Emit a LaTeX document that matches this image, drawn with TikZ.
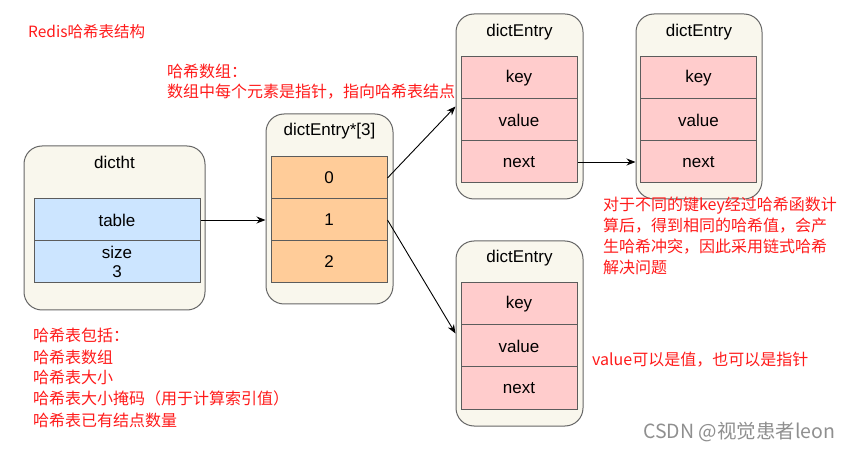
\documentclass[tikz,border=0pt]{standalone}
\usepackage{fontspec}
\setmainfont{Liberation Sans}
\newfontfamily\cjk{Noto Sans CJK SC}
\usetikzlibrary{arrows.meta}
\definecolor{boxfill}{HTML}{F9F7ED}
\definecolor{boxline}{HTML}{666666}
\definecolor{bluefill}{HTML}{CCE5FF}
\definecolor{orangefill}{HTML}{FFCC99}
\definecolor{pinkfill}{HTML}{FFCCCC}
\definecolor{cellline}{HTML}{5C5C5C}
\definecolor{notered}{HTML}{FF1A1A}
\definecolor{wmgray}{HTML}{8F8F8F}
\begin{document}
\begin{tikzpicture}[x=1pt,y=-1pt,
  container/.style={draw=boxline, fill=boxfill, rounded corners=18pt, line width=1pt, inner sep=0pt},
  cell/.style={draw=cellline, line width=1pt, minimum width=116pt, minimum height=42pt, inner sep=0pt, font=\fontsize{17}{19}\selectfont},
  boxtitle/.style={font=\fontsize{17}{19}\selectfont, inner sep=0pt},
  note/.style={font=\cjk\fontsize{16}{21}\selectfont, text=notered, anchor=base west, inner sep=0pt},
  link/.style={-{Stealth[length=9pt,width=7pt]}, line width=0.9pt, black}]
\path[use as bounding box] (0,0) rectangle (847,449);

% dictht
\node[container, minimum width=181pt, minimum height=164pt] (ht) at (114.5,228) {};
\node[boxtitle] (htt) at (114.5,162) {dictht};
\node[cell, fill=bluefill, minimum width=166pt] (tbl) at (117,220) {table};
\node[cell, fill=bluefill, minimum width=166pt, align=center] (sz) at (117,262) {size\\3};

% array
\node[container, minimum width=127pt, minimum height=190pt] (arr) at (329.5,209) {};
\node[boxtitle] (arrt) at (329.5,131) {dictEntry*[3]};
\node[cell, fill=orangefill] (c0) at (329,178) {0};
\node[cell, fill=orangefill] (c1) at (329,220) {1};
\node[cell, fill=orangefill] (c2) at (329,262) {2};

% dictEntry 1
\node[container, minimum width=127pt, minimum height=185pt] (e1) at (519.5,106.5) {};
\node[boxtitle] (e1t) at (519.5,32) {dictEntry};
\node[cell, fill=pinkfill] (k1) at (519,78) {key};
\node[cell, fill=pinkfill] (v1) at (519,120) {value};
\node[cell, fill=pinkfill] (n1) at (519,162) {next};

% dictEntry 2
\node[container, minimum width=126pt, minimum height=185pt] (e2) at (699,106.5) {};
\node[boxtitle] (e2t) at (699,32) {dictEntry};
\node[cell, fill=pinkfill] (k2) at (698.5,78) {key};
\node[cell, fill=pinkfill] (v2) at (698.5,120) {value};
\node[cell, fill=pinkfill] (n2) at (698.5,162) {next};

% dictEntry 3
\node[container, minimum width=127pt, minimum height=185pt] (e3) at (519.5,333.5) {};
\node[boxtitle] (e3t) at (519.5,258) {dictEntry};
\node[cell, fill=pinkfill] (k3) at (519,304) {key};
\node[cell, fill=pinkfill] (v3) at (519,346) {value};
\node[cell, fill=pinkfill] (n3) at (519,388) {next};

% connectors
\draw[link] (tbl.east) -- (tbl.east -| arr.west);
\draw[link] (c0.east) -- (e1.west);
\draw[link] (c1.east) -- (e3.west);
\draw[link] (n1.east) -- (n1.east -| e2.west);

% notes
\node[note, font=\cjk\fontsize{15.5}{21}\selectfont] (title) at (28,38) {Redis哈希表结构};
\node[note] (arrA) at (167,78) {哈希数组：};
\node[note] (arrB) at (167,98) {数组中每个元素是指针，指向哈希表结点};
\node[note] (htA) at (33,342) {哈希表包括：};
\node[note] (htB) at (33,363) {哈希表数组};
\node[note] (htC) at (33,384) {哈希表大小};
\node[note] (htD) at (33,405) {哈希表大小掩码（用于计算索引值）};
\node[note] (htE) at (33,426) {哈希表已有结点数量};
\node[note] (chA) at (603,211) {对于不同的键key经过哈希函数计};
\node[note] (chB) at (603,232) {算后，得到相同的哈希值，会产};
\node[note] (chC) at (603,253) {生哈希冲突，因此采用链式哈希};
\node[note] (chD) at (603,274) {解决问题};
\node[note] (val) at (592,366) {value可以是值，也可以是指针};

% watermark
\node[font=\cjk\fontsize{19.5}{22}\selectfont, text=wmgray, anchor=base west, inner sep=0pt] (wm) at (643,438) {CSDN @视觉患者leon};
\end{tikzpicture}
\end{document}
